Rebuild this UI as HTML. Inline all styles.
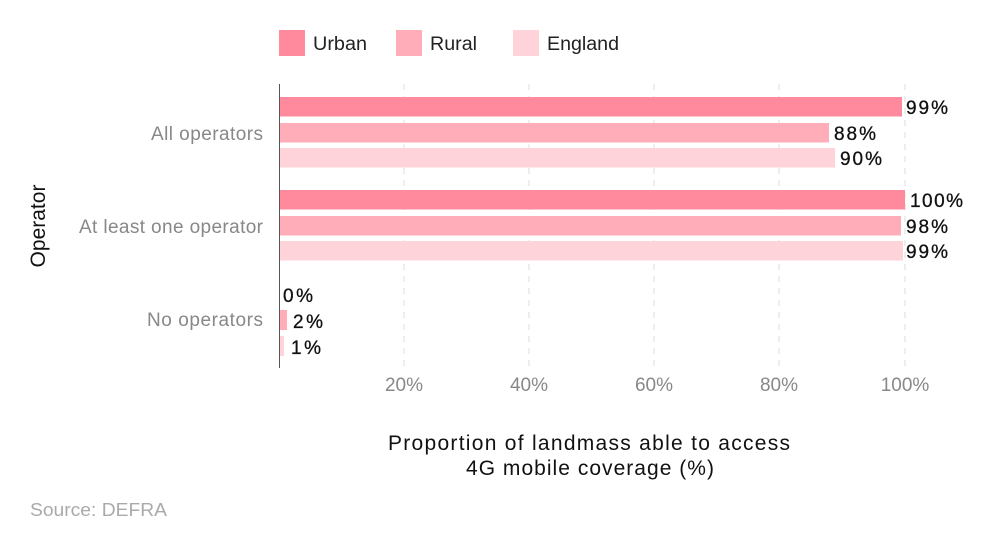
<!DOCTYPE html>
<html><head><style>
body{margin:0;background:#fff;font-family:"Liberation Sans",sans-serif;}
</style></head><body>
<svg width="1000" height="555" xmlns="http://www.w3.org/2000/svg" font-family="Liberation Sans, sans-serif">
<rect x="279" y="30" width="26" height="26" fill="#ff8a9e"/>
<text x="313" y="50" font-size="19" fill="#222" textLength="54" lengthAdjust="spacingAndGlyphs">Urban</text>
<rect x="396" y="30" width="26" height="26" fill="#ffadb9"/>
<text x="430" y="50" font-size="19" fill="#222" textLength="47" lengthAdjust="spacingAndGlyphs">Rural</text>
<rect x="513" y="30" width="26" height="26" fill="#ffd3da"/>
<text x="547" y="50" font-size="19" fill="#222" textLength="72" lengthAdjust="spacingAndGlyphs">England</text>
<g stroke="#ddd" stroke-dasharray="6,6" stroke-width="1">
<line x1="404" y1="84" x2="404" y2="368"/><line x1="529" y1="84" x2="529" y2="368"/>
<line x1="654" y1="84" x2="654" y2="368"/><line x1="779" y1="84" x2="779" y2="368"/>
<line x1="905" y1="84" x2="905" y2="368"/>
</g>
<g>
<rect x="279" y="97" width="623" height="19.5" fill="#ff8a9e"/>
<rect x="279" y="123" width="550" height="19.5" fill="#ffadb9"/>
<rect x="279" y="148" width="556" height="19.5" fill="#ffd3da"/>
<rect x="279" y="190" width="626" height="19.5" fill="#ff8a9e"/>
<rect x="279" y="216" width="622" height="19.5" fill="#ffadb9"/>
<rect x="279" y="241" width="624" height="19.5" fill="#ffd3da"/>
<rect x="279" y="310" width="8" height="20" fill="#ffadb9"/>
<rect x="279" y="336" width="5" height="20" fill="#ffd3da"/>
</g>
<line x1="279.5" y1="84" x2="279.5" y2="368" stroke="#555" stroke-width="1"/>
<g font-size="19" fill="#111" stroke="#111" stroke-width="0.3" lengthAdjust="spacingAndGlyphs">
<text x="906" y="114" textLength="42">99%</text><text x="834" y="140" textLength="42">88%</text><text x="840" y="165" textLength="42">90%</text>
<text x="910" y="207" textLength="53">100%</text><text x="906" y="233" textLength="42">98%</text><text x="906" y="258" textLength="42">99%</text>
<text x="283" y="302" textLength="30">0%</text><text x="293" y="328" textLength="30">2%</text><text x="291" y="354" textLength="30">1%</text>
</g>
<g font-size="19" fill="#888" lengthAdjust="spacingAndGlyphs">
<text x="151" y="140" textLength="112">All operators</text>
<text x="79" y="233" textLength="184">At least one operator</text>
<text x="147" y="326" textLength="116">No operators</text>
</g>
<g font-size="19" fill="#888" text-anchor="middle">
<text x="404" y="391">20%</text><text x="529" y="391">40%</text><text x="654" y="391">60%</text>
<text x="779" y="391">80%</text><text x="905" y="391">100%</text>
</g>
<text transform="translate(45,226) rotate(-90)" font-size="21" fill="#111" text-anchor="middle">Operator</text>
<g font-size="21" fill="#111" lengthAdjust="spacingAndGlyphs">
<text x="388" y="450" textLength="402">Proportion of landmass able to access</text>
<text x="466" y="475" textLength="248">4G mobile coverage (%)</text>
</g>
<text x="30" y="516" font-size="18" fill="#aaa" textLength="137" lengthAdjust="spacingAndGlyphs">Source: DEFRA</text>
</svg>
</body></html>
